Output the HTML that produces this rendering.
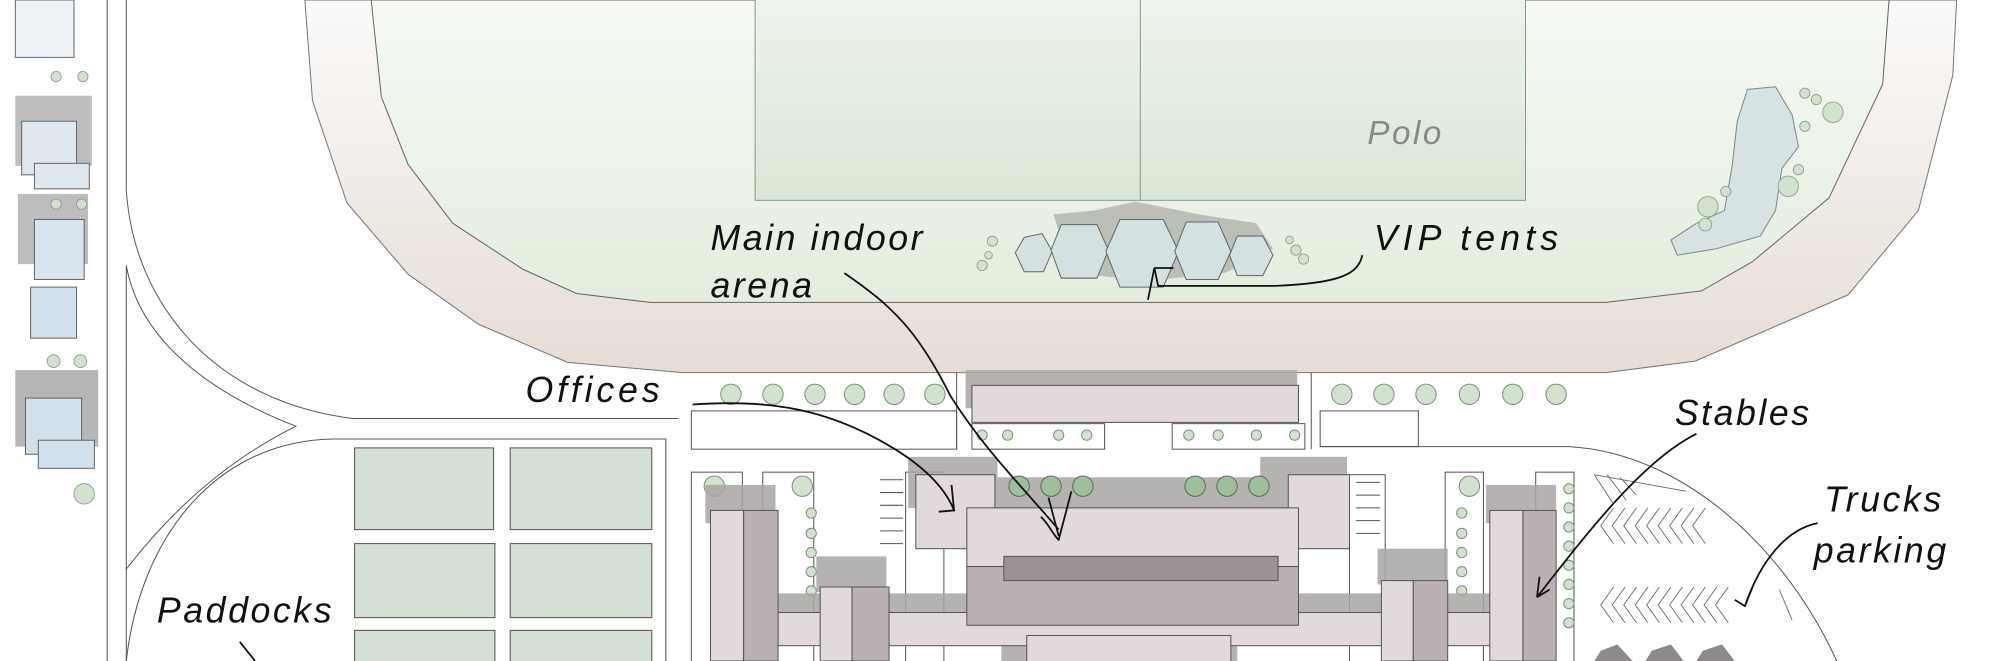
<!DOCTYPE html>
<html><head><meta charset="utf-8"><style>
html,body{margin:0;padding:0;background:#fff;}
svg{display:block;}
text{font-family:"Liberation Sans",sans-serif;font-style:italic;}
</style></head><body>
<svg width="2000" height="661" viewBox="0 0 1568 518" preserveAspectRatio="none" xmlns="http://www.w3.org/2000/svg">
<defs>
<linearGradient id="trk" x1="0" y1="0" x2="0" y2="1"><stop offset="0" stop-color="#fbfaf9"/><stop offset="1" stop-color="#e6ddd5"/></linearGradient>
<linearGradient id="grn" x1="0" y1="0" x2="0" y2="1"><stop offset="0" stop-color="#f6f9f4"/><stop offset="1" stop-color="#e3eedd"/></linearGradient>
<linearGradient id="fld" x1="0" y1="0" x2="0" y2="1"><stop offset="0" stop-color="#eef4ec"/><stop offset="1" stop-color="#d9e7d6"/></linearGradient>
</defs>
<rect width="1568" height="518" fill="#fff"/>
<path d="M239,0 L245,79 L272,159 L320,215 L375,254 L445,284 L535,292 L1259,292 L1329,283 L1449,231 L1504,165 L1531,59 L1534,0 Z" fill="url(#trk)" stroke="#777" stroke-width="0.8"/>
<path d="M291,0 L299,76 L320,129 L355,175 L410,211 L452,230 L510,237 L1259,237 L1334,228 L1374,205 L1434,155 L1476,66 L1481,0 Z" fill="url(#grn)" stroke="#666" stroke-width="0.8"/>
<rect x="592" y="-2" width="604" height="159" fill="url(#fld)" stroke="#8a9a88" stroke-width="0.8"/>
<line x1="894" y1="0" x2="894" y2="157" stroke="#8a9a88" stroke-width="0.8"/>
<text x="1072" y="113" font-size="26" fill="#888" letter-spacing="2">Polo</text>
<path d="M1370,70 L1392,68 L1405,90 L1410,115 L1397,132 L1392,165 L1380,185 L1345,195 L1315,200 L1310,188 L1330,175 L1352,165 L1358,130 L1362,95 Z" fill="#d6e3e2" stroke="#7a8a8a" stroke-width="0.8"/>
<g fill="#d2e2cf" stroke="#8aa088" stroke-width="0.7">
<circle cx="1415" cy="73" r="4"/><circle cx="1424" cy="78" r="4"/><circle cx="1437" cy="88" r="8"/><circle cx="1415" cy="99" r="4"/><circle cx="1410" cy="133" r="4"/><circle cx="1402" cy="146" r="8"/><circle cx="1339" cy="162" r="8"/><circle cx="1337" cy="176" r="5"/><circle cx="1353" cy="150" r="4"/>
<circle cx="778" cy="189" r="4"/><circle cx="775" cy="200" r="3"/><circle cx="770" cy="208" r="4"/><circle cx="1011" cy="188" r="3"/><circle cx="1016" cy="196" r="4"/><circle cx="1022" cy="203" r="4"/>
</g>
<g fill="#b0b3ad" opacity="0.8"><path d="M826,168 L858,165 L890,158 L940,168 L985,175 L998,195 L960,214 L900,220 L840,214 Z"/></g>
<g fill="#d3e2e0" stroke="#666" stroke-width="0.8">
<polygon points="803,186 817,183 825,197 818,213 803,213 796,198"/>
<polygon points="832,176 860,176 869,196 860,218 832,218 824,196"/>
<polygon points="878,172 912,172 924,197 912,225 878,225 867,197"/>
<polygon points="930,174 955,174 965,197 955,219 930,219 921,197"/>
<polygon points="970,185 990,185 998,200 990,216 970,216 964,200"/>
</g>
<g fill="none" stroke="#555" stroke-width="0.8">
<line x1="84" y1="0" x2="84" y2="518"/>
<line x1="99" y1="0" x2="99" y2="149"/>
<path d="M99,149 C105,240 170,315 277,328 L532,328"/>
<path d="M99,208 L99,446 C150,380 200,350 232,334 C170,310 110,270 99,208 Z"/>
<path d="M99,518 C110,420 170,345 262,344 L522,344 L522,518"/>
<line x1="99" y1="446" x2="99" y2="518"/>
</g>
<g stroke="#666" stroke-width="0.8">
<rect x="12" y="0" width="46" height="45" fill="#eef2f7"/>
<rect x="12" y="75" width="60" height="55" fill="#bdbdbd" stroke="none"/>
<rect x="17" y="95" width="43" height="42" fill="#dfe7ef"/><rect x="27" y="128" width="43" height="20" fill="#dfe7ef"/>
<rect x="14" y="152" width="55" height="55" fill="#bdbdbd" stroke="none"/>
<rect x="27" y="172" width="39" height="47" fill="#d8e4ee"/>
<rect x="24" y="225" width="36" height="40" fill="#d2e0eb"/>
<rect x="12" y="290" width="65" height="60" fill="#b5b5b5" stroke="none"/>
<rect x="20" y="312" width="44" height="44" fill="#d2e0eb"/><rect x="30" y="345" width="44" height="22" fill="#d2e0eb"/>
</g>
<g fill="#d2e2cf" stroke="#8aa088" stroke-width="0.7">
<circle cx="44" cy="60" r="4"/><circle cx="65" cy="60" r="4"/><circle cx="44" cy="160" r="4"/><circle cx="64" cy="160" r="4"/><circle cx="42" cy="283" r="5"/><circle cx="63" cy="283" r="5"/><circle cx="66" cy="387" r="8"/>
</g>
<g fill="#d5e1d6" stroke="#555" stroke-width="0.8">
<rect x="278" y="351" width="109" height="64"/><rect x="400" y="351" width="111" height="64"/>
<rect x="278" y="426" width="110" height="58"/><rect x="400" y="426" width="111" height="58"/>
<rect x="278" y="494" width="110" height="30"/><rect x="400" y="494" width="111" height="30"/>
</g>
<g fill="none" stroke="#555" stroke-width="0.8">
<rect x="542" y="322" width="208" height="30"/>
<rect x="1035" y="322" width="77" height="28"/>
<line x1="750" y1="292" x2="750" y2="352"/><line x1="1028" y1="292" x2="1028" y2="352"/>
<rect x="762" y="332" width="104" height="20"/><rect x="919" y="332" width="104" height="20"/>
<path d="M1035,350 L1230,350 C1320,355 1400,430 1440,518"/>
<rect x="542" y="370" width="40" height="150"/><rect x="598" y="370" width="40" height="150"/>
<rect x="1133" y="370" width="30" height="150"/><rect x="1204" y="370" width="30" height="150"/>
<rect x="710" y="370" width="30" height="150"/><rect x="1058" y="372" width="28" height="148"/>
</g>
<g fill="#d2e2cf" stroke="#7a9278" stroke-width="0.8">
<circle cx="573" cy="309" r="8"/><circle cx="606" cy="309" r="8"/><circle cx="639" cy="309" r="8"/><circle cx="670" cy="309" r="8"/><circle cx="701" cy="309" r="8"/><circle cx="733" cy="309" r="8"/>
<circle cx="1052" cy="309" r="8"/><circle cx="1085" cy="309" r="8"/><circle cx="1118" cy="309" r="8"/><circle cx="1152" cy="309" r="8"/><circle cx="1186" cy="309" r="8"/><circle cx="1220" cy="309" r="8"/>
<circle cx="770" cy="341" r="4"/><circle cx="790" cy="341" r="4"/><circle cx="830" cy="341" r="4"/><circle cx="852" cy="341" r="4"/>
<circle cx="932" cy="341" r="4"/><circle cx="955" cy="341" r="4"/><circle cx="985" cy="341" r="4"/><circle cx="1015" cy="341" r="4"/>
<circle cx="560" cy="381" r="8"/><circle cx="629" cy="381" r="8"/><circle cx="1152" cy="381" r="8"/>
<circle cx="636" cy="402" r="4"/><circle cx="636" cy="418" r="4"/><circle cx="636" cy="433" r="4"/><circle cx="636" cy="448" r="4"/><circle cx="636" cy="463" r="4"/>
<circle cx="1146" cy="402" r="4"/><circle cx="1146" cy="418" r="4"/><circle cx="1146" cy="433" r="4"/><circle cx="1146" cy="448" r="4"/><circle cx="1146" cy="463" r="4"/>
<circle cx="1230" cy="383" r="4"/><circle cx="1230" cy="398" r="4"/><circle cx="1230" cy="413" r="4"/><circle cx="1230" cy="428" r="4"/><circle cx="1230" cy="443" r="4"/><circle cx="1230" cy="458" r="4"/><circle cx="1230" cy="473" r="4"/><circle cx="1230" cy="488" r="4"/>
</g>
<g fill="#a9a5a5" opacity="0.85">
<rect x="757" y="290" width="260" height="30"/>
<rect x="712" y="358" width="70" height="40"/><rect x="988" y="358" width="68" height="30"/>
<rect x="780" y="374" width="230" height="30"/>
<rect x="553" y="380" width="55" height="30"/><rect x="640" y="436" width="55" height="28"/>
<rect x="1080" y="430" width="55" height="28"/><rect x="1165" y="380" width="55" height="30"/>
<rect x="610" y="465" width="560" height="20"/>
<rect x="785" y="490" width="185" height="28"/>
</g>
<g fill="#9bc09a" stroke="#557055" stroke-width="0.8"><circle cx="799" cy="381" r="8"/><circle cx="824" cy="381" r="8"/><circle cx="849" cy="381" r="8"/><circle cx="937" cy="381" r="8"/><circle cx="962" cy="381" r="8"/><circle cx="987" cy="381" r="8"/></g>
<g stroke="#555" stroke-width="0.8">
<rect x="762" y="302" width="256" height="29" fill="#e2d9da"/>
<rect x="718" y="372" width="62" height="58" fill="#e2d9da"/>
<rect x="1010" y="372" width="48" height="58" fill="#e2d9da"/>
<rect x="610" y="480" width="560" height="26" fill="#e2d9da"/>
<rect x="758" y="398" width="260" height="46" fill="#e2d9da"/>
<rect x="758" y="444" width="260" height="46" fill="#bbb1b2"/>
<rect x="787" y="436" width="215" height="19" fill="#9d9293"/>
<rect x="557" y="400" width="26" height="118" fill="#e2d9da"/><rect x="583" y="400" width="27" height="118" fill="#bbb1b2"/>
<rect x="643" y="460" width="25" height="58" fill="#e2d9da"/><rect x="668" y="460" width="29" height="58" fill="#bbb1b2"/>
<rect x="1083" y="455" width="25" height="63" fill="#e2d9da"/><rect x="1108" y="455" width="27" height="63" fill="#bbb1b2"/>
<rect x="1168" y="400" width="26" height="118" fill="#e2d9da"/><rect x="1194" y="400" width="26" height="118" fill="#bbb1b2"/>
<rect x="805" y="498" width="160" height="30" fill="#e2d9da"/>
</g>
<g stroke="#555" stroke-width="0.8">
<line x1="690" y1="376" x2="708" y2="376"/><line x1="690" y1="386" x2="708" y2="386"/><line x1="690" y1="396" x2="708" y2="396"/><line x1="690" y1="406" x2="708" y2="406"/><line x1="690" y1="416" x2="708" y2="416"/><line x1="690" y1="426" x2="708" y2="426"/>
<line x1="1063" y1="378" x2="1082" y2="378"/><line x1="1063" y1="388" x2="1082" y2="388"/><line x1="1063" y1="398" x2="1082" y2="398"/><line x1="1063" y1="408" x2="1082" y2="408"/><line x1="1063" y1="418" x2="1082" y2="418"/>
</g>
<g fill="none" stroke="#666" stroke-width="0.7">
<path d="M1250,372 L1265,395 M1260,372 L1275,392 M1270,374 L1283,388 M1250,372 L1322,385"/>
<path d="M1265,398 l-10,14 l10,14 M1274,398 l-10,14 l10,14 M1283,398 l-10,14 l10,14 M1292,398 l-10,14 l10,14 M1301,398 l-10,14 l10,14 M1310,398 l-10,14 l10,14 M1319,398 l-10,14 l10,14 M1328,398 l-10,14 l10,14 M1337,398 l-10,14 l10,14"/>
<path d="M1265,460 l-10,14 l10,14 M1274,460 l-10,14 l10,14 M1283,460 l-10,14 l10,14 M1292,460 l-10,14 l10,14 M1301,460 l-10,14 l10,14 M1310,460 l-10,14 l10,14 M1319,460 l-10,14 l10,14 M1328,460 l-10,14 l10,14 M1337,460 l-10,14 l10,14 M1346,460 l-10,14 l10,14 M1355,460 l-10,14 l10,14 M1395,462 l10,24"/>
</g>
<g fill="#8e8a8a"><polygon points="1255,510 1268,505 1280,518 1250,518"/><polygon points="1295,510 1310,505 1320,518 1290,518"/><polygon points="1335,510 1350,505 1360,518 1330,518"/></g>
<g fill="none" stroke="#111" stroke-width="1.4">
<path d="M662,214 C700,240 720,260 745,310 C770,350 800,380 830,415"/>
<path d="M816,405 C822,410 826,420 830,423 L840,385 M830,420 L822,390"/>
<path d="M1068,200 C1065,215 1050,222 1000,224 L908,224 L905,210 M905,210 L900,235 M905,210 L920,210"/>
<path d="M543,317 C600,313 640,320 680,340 C720,360 740,380 748,400 L736,401 M748,400 L746,380"/>
<path d="M1330,340 C1290,360 1250,410 1205,468 L1215,462 M1205,468 L1207,452"/>
<path d="M1425,410 C1400,415 1380,440 1368,475 L1360,470 M1368,475 L1374,460"/>
<path d="M188,503 L200,518"/>
</g>
<g fill="#111" font-size="28" letter-spacing="2">
<text x="557" y="196">Main indoor</text>
<text x="557" y="233">arena</text>
<text x="1077" y="196" letter-spacing="4">VIP tents</text>
<text x="412" y="315" letter-spacing="3">Offices</text>
<text x="1313" y="333" letter-spacing="2">Stables</text>
<text x="1430" y="401">Trucks</text>
<text x="1422" y="441">parking</text>
<text x="123" y="488">Paddocks</text>
</g>
</svg>
</body></html>
